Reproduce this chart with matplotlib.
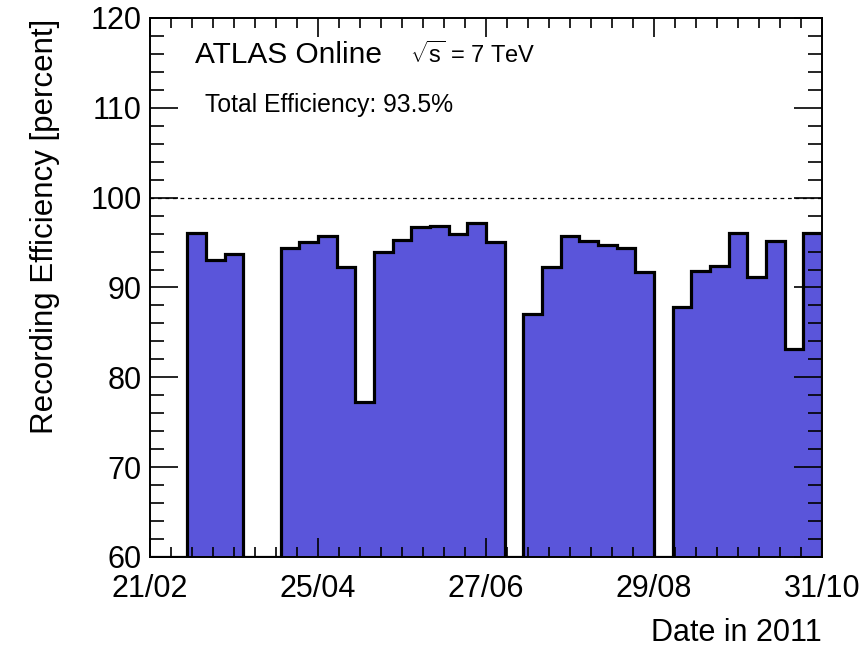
import numpy as np
import matplotlib
matplotlib.use('Agg')
import matplotlib.pyplot as plt
import matplotlib.dates as mdates
from matplotlib.ticker import MultipleLocator, FixedLocator
import datetime as dt

plt.rcParams['font.family'] = ['Liberation Sans', 'DejaVu Sans']
plt.rcParams['mathtext.fontset'] = 'custom'
plt.rcParams['mathtext.rm'] = 'Liberation Sans'
plt.rcParams['mathtext.it'] = 'Liberation Sans:italic'

# weekly recording efficiency, 21/02 - 31/10 2011 (0 = no data)
start_date = dt.date(2011, 2, 21)
n_weeks = 36
efficiency = [0, 0, 96.1, 93.1, 93.7, 0, 0,
              94.4, 95.1, 95.7, 92.3, 77.3, 94.0, 95.3, 96.7, 96.8, 96.0, 97.2, 95.1,
              0,
              87.1, 92.3, 95.7, 95.2, 94.7, 94.4, 91.7,
              0,
              87.8, 91.8, 92.4, 96.1, 91.2, 95.2, 83.2, 96.1]
total_eff = 93.5
ymin, ymax = 60, 120

edges = mdates.date2num([start_date + dt.timedelta(days=7 * i) for i in range(n_weeks + 1)])
vals = np.clip(np.array(efficiency), ymin, None)

fig = plt.figure(figsize=(8.62, 6.49), dpi=100)
ax = fig.add_axes([0.174, 0.1418, 0.7796, 0.8305])

ax.stairs(vals, edges, baseline=ymin, fill=True, color='#5A55DA', lw=0)
ax.stairs(vals, edges, baseline=ymin, color='black', lw=2.3)
ax.axhline(100, color='black', lw=0.9, ls=(0, (3, 3)))

ax.set_xlim(edges[0], edges[-1])
ax.set_ylim(ymin, ymax)

# major tick every 9 weeks, 8 minor divisions
major = edges[::9]
ax.xaxis.set_major_locator(FixedLocator(major))
ax.xaxis.set_minor_locator(FixedLocator(np.arange(edges[0], edges[-1] + 0.1, 63 / 8)))
ax.xaxis.set_major_formatter(mdates.DateFormatter('%d/%m'))
ax.yaxis.set_major_locator(MultipleLocator(10))
ax.yaxis.set_minor_locator(MultipleLocator(2))

ax.tick_params(which='both', direction='in', top=True, right=True, width=1.2, labelsize=22)
ax.tick_params(axis='y', which='major', length=20, pad=6)
ax.tick_params(axis='y', which='minor', length=10)
ax.tick_params(axis='x', which='major', length=14, pad=12)
ax.tick_params(axis='x', which='minor', length=7)
for s in ax.spines.values():
    s.set_linewidth(1.4)

ax.set_ylabel('Recording Efficiency [percent]', fontsize=22.5)
ax.yaxis.set_label_coords(-0.134, 0.998)
ax.yaxis.label.set_ha('right')
ax.set_xlabel('Date in 2011', fontsize=22)
ax.xaxis.set_label_coords(1.0, -0.113)
ax.xaxis.label.set_ha('right')

ax.text(0.067, 0.916, 'ATLAS Online', transform=ax.transAxes, fontsize=21.5, va='baseline')
ax.text(0.387, 0.916, r'$\sqrt{\mathrm{s}}$ = 7 TeV', transform=ax.transAxes, fontsize=17, va='baseline')
ax.text(0.082, 0.826, 'Total Efficiency: %.1f%%' % total_eff, transform=ax.transAxes, fontsize=17.8, va='baseline')

fig.savefig('out.png', dpi=100)
